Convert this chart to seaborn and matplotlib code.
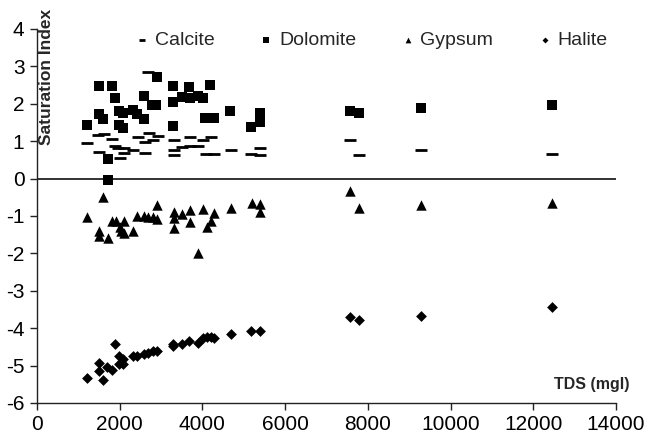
import matplotlib
matplotlib.use("Agg")
import matplotlib.pyplot as plt
import seaborn as sns
import pandas as pd

# ---- data (TDS in mg/l, saturation indices) ----
calcite_tds = [1216, 1483, 1620, 1821, 1500, 1886, 2007, 1951, 2111, 2111, 2329, 2434,
               2611, 2611, 2700, 2813, 2926, 2692, 3313, 3313, 3313, 3498, 3699, 3699,
               3901, 4006, 4207, 4086, 4288, 4691, 5175, 5392, 5392,
               7568, 7786, 9278, 12460]
calcite_si = [0.94, 1.16, 1.20, 1.07, 0.70, 0.88, 0.55, 0.82, 0.82, 0.69, 0.77, 1.10,
              0.97, 0.69, 1.22, 1.04, 1.13, 2.84, 1.03, 0.77, 0.64, 0.85, 1.12, 0.88,
              0.88, 1.02, 1.10, 0.66, 0.66, 0.77, 0.66, 0.82, 0.64,
              1.04, 0.62, 0.77, 0.66]

dolomite_tds = [1216, 1500, 1821, 1886, 1500, 1588, 1990, 2087, 1990, 2087, 1709, 1725,
                2314, 2410, 2595, 2595, 2780, 2880, 2902, 3296, 3296, 3296, 3498, 3683,
                3699, 3885, 4006, 4183, 4070, 4288, 4675, 5175, 5392, 5392,
                7568, 7786, 9278, 12460]
dolomite_si = [1.43, 2.47, 2.47, 2.15, 1.73, 1.60, 1.80, 1.76, 1.42, 1.36, 0.53, -0.05,
               1.84, 1.73, 1.60, 2.20, 1.98, 1.98, 2.72, 2.48, 2.06, 1.40, 2.17, 2.44,
               2.15, 2.21, 2.15, 2.50, 1.63, 1.63, 1.80, 1.37, 1.76, 1.52,
               1.80, 1.76, 1.89, 1.96]

gypsum_tds = [1216, 1603, 1500, 1500, 1725, 1821, 1910, 2007, 2031, 2111, 2111, 2314,
              2426, 2587, 2692, 2813, 2910, 2910, 3313, 3313, 3313, 3514, 3699, 3699,
              3901, 4006, 4103, 4199, 4288, 4691, 5191, 5392, 5392,
              7568, 7786, 9278, 12460]
gypsum_si = [-1.04, -0.50, -1.40, -1.53, -1.58, -1.13, -1.13, -1.30, -1.40, -1.13, -1.45, -1.41,
             -0.99, -0.99, -1.02, -1.04, -1.09, -0.70, -0.88, -1.06, -1.33, -0.95, -0.84, -1.17,
             -1.99, -0.82, -1.30, -1.13, -0.93, -0.79, -0.64, -0.68, -0.88,
             -0.32, -0.78, -0.70, -0.64]

halite_tds = [1216, 1500, 1500, 1588, 1685, 1806, 1886, 1990, 1990, 2087, 2087, 2314,
              2426, 2595, 2692, 2797, 2910, 3296, 3296, 3498, 3683, 3885, 4006, 4103,
              4199, 4288, 4691, 5175, 5392,
              7568, 7786, 9278, 12460]
halite_si = [-5.32, -4.93, -5.15, -5.38, -5.03, -5.13, -4.42, -4.73, -4.97, -4.97, -4.82, -4.73,
             -4.74, -4.68, -4.66, -4.62, -4.62, -4.42, -4.48, -4.43, -4.35, -4.40, -4.25, -4.23,
             -4.23, -4.26, -4.15, -4.07, -4.08,
             -3.69, -3.78, -3.67, -3.42]

x_ticks = [0, 2000, 4000, 6000, 8000, 10000, 12000, 14000]
y_ticks = [-6, -5, -4, -3, -2, -1, 0, 1, 2, 3, 4]

sns.set_theme(style="white")
plt.rcParams['font.family'] = ['Liberation Sans', 'DejaVu Sans']
plt.rcParams['axes.unicode_minus'] = False

fig = plt.figure(figsize=(6.45, 4.41), dpi=100)
ax = fig.add_axes([37/645, 1 - 403/441, (616 - 37)/645, (403 - 29)/441])

series = [
    ("Calcite", calcite_tds, calcite_si, "_", 8),
    ("Dolomite", dolomite_tds, dolomite_si, "s", 7),
    ("Gypsum", gypsum_tds, gypsum_si, "^", 7.5),
    ("Halite", halite_tds, halite_si, "D", 5.5),
]
for name, xs, ys, mk, ms in series:
    df = pd.DataFrame({"TDS": xs, "SI": ys})
    if mk == "_":
        sns.scatterplot(data=df, x="TDS", y="SI", ax=ax, marker=mk, s=ms**2,
                        color="black", linewidth=2, label=name)
    else:
        sns.scatterplot(data=df, x="TDS", y="SI", ax=ax, marker=mk, s=ms**2,
                        color="black", edgecolor="black", linewidth=0, label=name)

ax.axhline(0, color="#222222", lw=1.3, zorder=0)
ax.set_xlim(0, 14000)
ax.set_ylim(-6, 4)
ax.set_xticks(x_ticks)
ax.set_yticks(y_ticks)
ax.set_xlabel("")
ax.set_ylabel("")
for s in ["top", "right"]:
    ax.spines[s].set_visible(False)
for s in ["left", "bottom"]:
    ax.spines[s].set_color("#222222")
    ax.spines[s].set_linewidth(1.0)
ax.tick_params(axis="both", which="major", direction="out", length=5, width=1,
               colors="#222222", labelsize=15, labelcolor="black", pad=4,
               left=True, bottom=True)

ax.legend(ncol=4, frameon=False, loc="center",
          bbox_to_anchor=((370 - 37) / 579, (403 - 40) / (403 - 29)),
          bbox_transform=ax.transAxes, markerscale=0.55, handletextpad=0.15,
          columnspacing=2.15, fontsize=14, handlelength=1.0)

fig.text(47/645, 1 - 77/441, "Saturation Index", rotation=90, ha="center", va="center",
         fontsize=12.5, fontweight="bold")
fig.text(592/645, 1 - 384/441, "TDS (mgl)", ha="center", va="center",
         fontsize=11.5, fontweight="bold")

fig.savefig("out.png", dpi=100)
